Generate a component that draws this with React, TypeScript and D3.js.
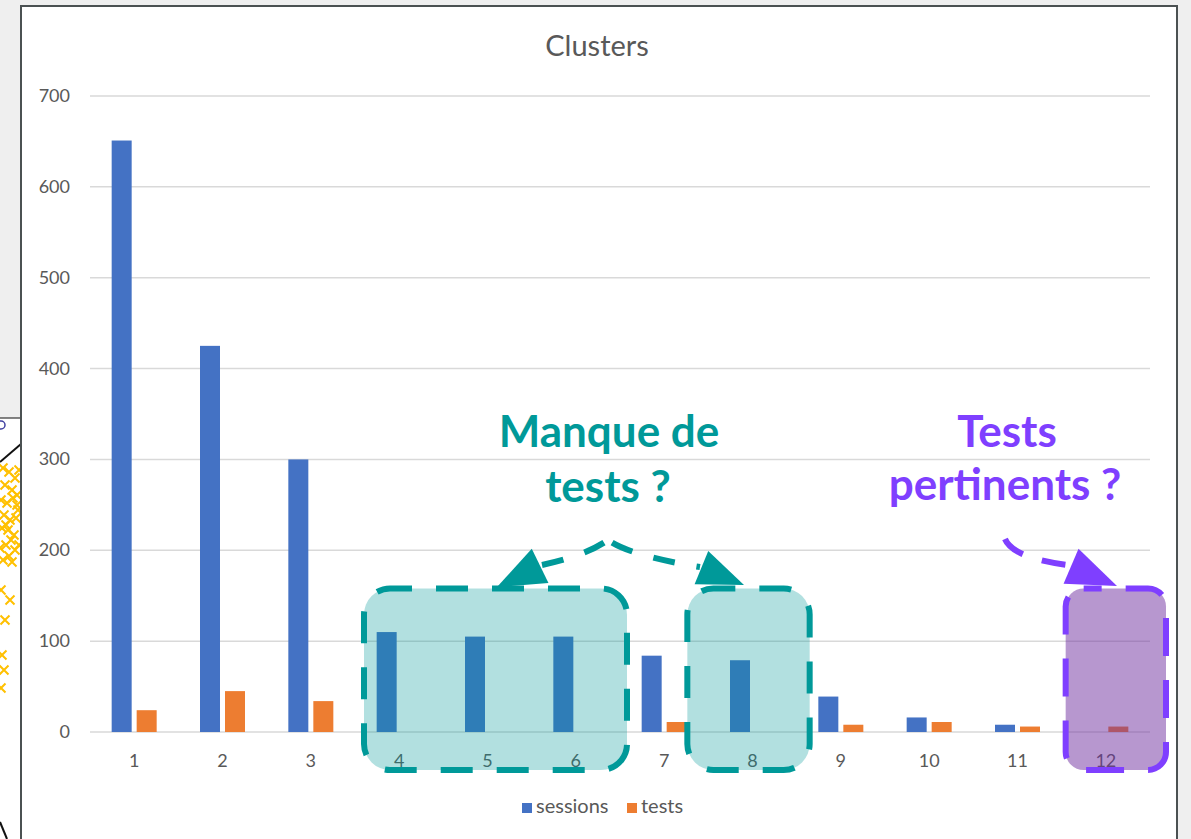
import * as d3 from 'd3';

// cluster data
const clusters = ['1', '2', '3', '4', '5', '6', '7', '8', '9', '10', '11', '12'];
const sessions = [651, 425, 300, 110, 105, 105, 84, 79, 39, 16, 8, 0];
const tests = [24, 45, 34, 0, 0, 0, 11, 0, 8, 11, 6, 6];
const yTicks = [0, 100, 200, 300, 400, 500, 600, 700];
const seriesNames = ['sessions', 'tests'];
const seriesColors = ['#4472C4', '#ED7D31'];

// annotated groups of clusters
const tealGroups: [string, string][] = [['4', '6'], ['8', '8']];
const purpleGroup: [string, string] = ['12', '12'];

// cut-off neighbour figure on the left edge (yellow crosses)
const fragX = [3, 9, 15, 19, 5, 12, 17, 1, 7, 13, 18, 4, 10, 16, 2, 8, 14, 11, 6, 0, 15, 9, 19, 3, 12, 6, 17, 1, 10, 5, 2, 4, 1];
const fragY = [0.468, 0.472, 0.478, 0.47, 0.485, 0.49, 0.495, 0.5, 0.503, 0.498, 0.51, 0.515, 0.52, 0.518, 0.528, 0.53, 0.535, 0.54, 0.545, 0.548, 0.55, 0.556, 0.545, 0.56, 0.562, 0.525, 0.505, 0.59, 0.6, 0.62, 0.655, 0.67, 0.688];

const W = 1191;
const H = 839;
const FONT = 'Lato, "Open Sans", sans-serif';

function arrowHead(tip: [number, number], from: [number, number], len: number, half: number) {
  const dx = tip[0] - from[0];
  const dy = tip[1] - from[1];
  const d = Math.hypot(dx, dy);
  const ux = dx / d, uy = dy / d;
  const bx = tip[0] - ux * len, by = tip[1] - uy * len;
  return `M${tip[0]},${tip[1]}L${bx - uy * half},${by + ux * half}L${bx + uy * half},${by - ux * half}Z`;
}

export default function App() {
  const x0 = d3.scaleBand<string>().domain(clusters).range([90, 1150]);
  const bw = x0.bandwidth();
  const x1 = d3.scaleBand<string>().domain(seriesNames)
    .range([bw / 2 - 22.5, bw / 2 + 22.5]).paddingInner(0.2);
  const y = d3.scaleLinear().domain([0, 700]).range([732, 96]);
  const values = [sessions, tests];

  const fx = d3.scaleLinear().domain([0, 20]).range([0, 20]);
  const fy = d3.scaleLinear().domain([0, 1]).range([0, 1000]);

  const boxTop = y(158);
  const boxBottom = y(0) + 38;

  const teal = '#009999';
  const purple = '#7F3FFF';

  // arrows from the labels to the boxes
  const peak: [number, number] = [608, 540];
  const leftEnd: [number, number] = [542, 565];
  const rightEnd: [number, number] = [700, 567];
  const leftTip: [number, number] = [497, 587];
  const rightTip: [number, number] = [744, 585];
  const purpStart: [number, number] = [1005, 539];
  const purpEnd: [number, number] = [1068, 565];
  const purpTip: [number, number] = [1117, 586];

  return (
    <svg width={W} height={H} style={{ position: 'absolute', left: 0, top: 0, display: 'block' }}
      fontFamily={FONT}>
      <rect x={0} y={0} width={W} height={H} fill="#efefef" />

      {/* left neighbour fragment */}
      <rect x={0} y={418} width={21} height={H - 418} fill="#ffffff" />
      <line x1={0} x2={21} y1={418} y2={418} stroke="#333" strokeWidth={1.2} />
      <circle cx={1} cy={425} r={4} fill="none" stroke="#4040a0" strokeWidth={1.5} />
      <line x1={0} y1={462} x2={21} y2={444} stroke="#111" strokeWidth={2} />
      <line x1={0} y1={822} x2={7} y2={839} stroke="#111" strokeWidth={2} />
      {fragX.map((v, i) => {
        const cx = fx(v), cy = fy(fragY[i]);
        return (
          <path key={i} d={`M${cx - 4.5},${cy - 4.5}L${cx + 4.5},${cy + 4.5}M${cx - 4.5},${cy + 4.5}L${cx + 4.5},${cy - 4.5}`}
            stroke="#FFC000" strokeWidth={2} />
        );
      })}

      {/* chart frame */}
      <rect x={21} y={6} width={1156} height={900} fill="#ffffff" stroke="#4b5152" strokeWidth={2} />

      <text x={597} y={56} textAnchor="middle" fontSize={29} fill="#595959">Clusters</text>

      {yTicks.map((t) => (
        <g key={t}>
          <line x1={90} x2={1150} y1={y(t)} y2={y(t)} stroke="#d9d9d9" strokeWidth={1.5} />
          <text x={70} y={y(t) + 6} textAnchor="end" fontSize={18} fill="#595959">{t}</text>
        </g>
      ))}

      {clusters.map((c, i) => (
        <g key={c} transform={`translate(${x0(c)},0)`}>
          {seriesNames.map((s, k) => values[k][i] > 0 && (
            <rect key={s} x={x1(s)} width={x1.bandwidth()} y={y(values[k][i])}
              height={y(0) - y(values[k][i])} fill={seriesColors[k]} />
          ))}
          <text x={bw / 2} y={767} textAnchor="middle" fontSize={18} fill="#595959">{c}</text>
        </g>
      ))}

      {/* legend */}
      {seriesNames.map((s, k) => {
        const lx = k === 0 ? 522 : 627;
        return (
          <g key={s}>
            <rect x={lx} y={803} width={10} height={10} fill={seriesColors[k]} />
            <text x={lx + 14} y={813} fontSize={20} fill="#595959">{s}</text>
          </g>
        );
      })}

      {/* teal annotation boxes */}
      {tealGroups.map(([a, b], i) => {
        const left = i === 0 ? (x0(a) ?? 0) + 9 : (x0(a) ?? 0) - 21;
        const right = i === 0 ? (x0(b) ?? 0) + bw + 7 : (x0(b) ?? 0) + bw + 13;
        return (
          <rect key={a} x={left} y={boxTop} width={right - left} height={boxBottom - boxTop}
            rx={26} ry={26} fill={teal} fillOpacity={0.3} stroke={teal} strokeWidth={6}
            strokeDasharray="32 24" strokeDashoffset={10} />
        );
      })}

      {/* purple annotation box */}
      <rect x={(x0(purpleGroup[0]) ?? 0) + 4} y={boxTop}
        width={(x0(purpleGroup[1]) ?? 0) + bw + 16 - ((x0(purpleGroup[0]) ?? 0) + 4)}
        height={boxBottom - boxTop} rx={18} ry={18} fill="#7030A0" fillOpacity={0.5}
        stroke={purple} strokeWidth={6} strokeDasharray="38 24" strokeDashoffset={20} />

      {/* teal arrows */}
      <path d={`M${peak[0]},${peak[1]}Q585,556 ${leftEnd[0]},${leftEnd[1]}`} fill="none" stroke={teal}
        strokeWidth={6} strokeDasharray="22 22" strokeDashoffset={-5} />
      <path d={arrowHead(leftTip, leftEnd, 48, 19)} fill={teal} />
      <path d={`M${peak[0]},${peak[1]}Q631,556 ${rightEnd[0]},${rightEnd[1]}`} fill="none" stroke={teal}
        strokeWidth={6} strokeDasharray="22 22" strokeDashoffset={-5} />
      <path d={arrowHead(rightTip, rightEnd, 46, 18)} fill={teal} />

      {/* purple arrow */}
      <path d={`M${purpStart[0]},${purpStart[1]}Q1013,558 ${purpEnd[0]},${purpEnd[1]}`} fill="none"
        stroke={purple} strokeWidth={6} strokeDasharray="24 20" />
      <path d={arrowHead(purpTip, purpEnd, 50, 19)} fill={purple} />

      {/* annotation labels */}
      <text x={609} y={447} textAnchor="middle" fontSize={44} fontWeight={700} fill={teal}>Manque de</text>
      <text x={608} y={502} textAnchor="middle" fontSize={44} fontWeight={700} fill={teal}>tests ?</text>
      <text x={1007} y={447} textAnchor="middle" fontSize={44} fontWeight={700} fill={purple}>Tests</text>
      <text x={1005} y={500} textAnchor="middle" fontSize={44} fontWeight={700} fill={purple}>pertinents ?</text>
    </svg>
  );
}
